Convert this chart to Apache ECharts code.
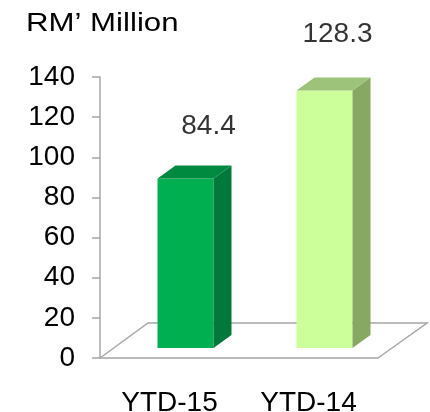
<!DOCTYPE html>
<html>
<head>
<meta charset="utf-8">
<script src="https://cdn.jsdelivr.net/npm/echarts@6/dist/echarts.min.js"></script>
<style>
	html, body { margin: 0; padding: 0; background: #fff; }
	#chart { width: 430px; height: 412px; }
</style>
</head>
<body>
<div id="chart"></div>
<script>
// 数据
const categories = ['YTD-15', 'YTD-14'];
const values = [84.4, 128.3];
const yTicks = [0, 20, 40, 60, 80, 100, 120, 140];

// 每根柱子的三面颜色：正面 / 侧面 / 顶面
const faceColors = [
	{ front: '#00b050', side: '#00793a', top: '#008a40' },
	{ front: '#ccff99', side: '#86a862', top: '#9dc27a' }
];
// 数值标签偏移
const labelOffsets = [[39, -43], [29, -47]];

// 3D 效果参数
const depthX = 18, depthY = 13;   // 柱子厚度
const shiftX = 16, shiftY = -10;  // 柱子在地板上的位置偏移
const floorX = 48, floorY = -35;  // 地板深度
const barWidth = 56;
const font = 'Liberation Sans, Arial, sans-serif';

const chart = echarts.init(document.getElementById('chart'));

// 地板（平行四边形的三条边）
const renderFloor = (params, api) => {
	const cs = params.coordSys;
	const l = cs.x, r = cs.x + cs.width, b = cs.y + cs.height;
	return {
		type: 'polyline',
		shape: { points: [[l, b], [l + floorX, b + floorY], [r + floorX + 1, b + floorY], [r, b]] },
		style: { stroke: '#a6a6a6', lineWidth: 1.5, fill: null }
	};
};

// 立体柱子
const renderBar = (params, api) => {
	const idx = api.value(0);
	const base = api.coord([idx, 0]);
	const top = api.coord([idx, api.value(1)]);
	const c = faceColors[params.dataIndex];
	const x0 = base[0] + shiftX - barWidth / 2;
	const x1 = x0 + barWidth;
	const yb = base[1] + shiftY;
	const yt = top[1] + shiftY;
	return {
		type: 'group',
		children: [
			{ type: 'rect', shape: { x: x0, y: yt, width: barWidth, height: yb - yt }, style: { fill: c.front } },
			{ type: 'polygon', shape: { points: [[x1, yt], [x1 + depthX, yt - depthY], [x1 + depthX, yb - depthY], [x1, yb]] }, style: { fill: c.side } },
			{ type: 'polygon', shape: { points: [[x0, yt], [x0 + depthX, yt - depthY], [x1 + depthX, yt - depthY], [x1, yt]] }, style: { fill: c.top } }
		]
	};
};

chart.setOption({
	animation: false,
	textStyle: { fontFamily: font },
	graphic: [
		{
			type: 'text',
			left: 26, top: 11,
			scaleX: 1.2,
			style: { text: 'RM\u2019 Million', fontSize: 26, fill: '#000', fontFamily: font }
		}
	],
	grid: { left: 100, right: 52, top: 77, bottom: 54, outerBoundsMode: 'none' },
	xAxis: {
		type: 'category',
		data: categories,
		axisLine: { lineStyle: { color: '#a6a6a6', width: 1.5 } },
		axisTick: { length: 8, lineStyle: { color: '#a6a6a6', width: 1.5 } },
		axisLabel: { margin: 31, fontSize: 28, color: '#000' }
	},
	yAxis: {
		type: 'value',
		min: yTicks[0],
		max: yTicks[yTicks.length - 1],
		interval: 20,
		splitLine: { show: false },
		axisLine: { show: true, lineStyle: { color: '#a6a6a6', width: 1.5 } },
		axisTick: { show: true, length: 8, lineStyle: { color: '#a6a6a6', width: 1.5 } },
		axisLabel: { margin: 25, fontSize: 28, color: '#000' }
	},
	series: [
		{
			type: 'custom',
			name: 'floor',
			renderItem: renderFloor,
			data: [[0, 0]],
			clip: false,
			silent: true,
			z: 1
		},
		{
			type: 'custom',
			name: 'bars',
			renderItem: renderBar,
			data: values.map((v, i) => [i, v]),
			clip: false,
			z: 2
		},
		{
			// 数值标签
			type: 'scatter',
			data: values.map((v, i) => ({
				value: [i, v],
				label: { offset: labelOffsets[i] }
			})),
			symbolSize: 0,
			z: 3,
			label: {
				show: true,
				position: 'top',
				fontSize: 28,
				color: '#000',
				formatter: p => p.value[1].toFixed(1)
			}
		}
	]
});
</script>
</body>
</html>
